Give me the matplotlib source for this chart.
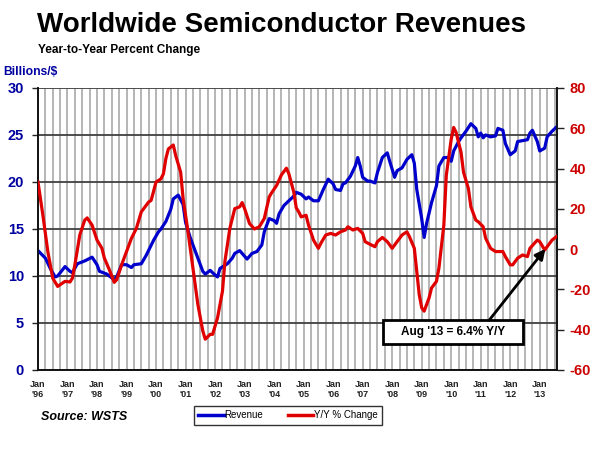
import matplotlib
matplotlib.use("Agg")
import matplotlib.pyplot as plt
from matplotlib.ticker import MultipleLocator, FixedLocator
from matplotlib.lines import Line2D
from matplotlib.patches import Rectangle

plt.rcParams['font.family'] = ['Liberation Sans', 'DejaVu Sans']

# months since Jan 1996
rev_months = [0, 3, 5, 7, 8, 11, 13, 14, 16, 19, 22, 24, 25, 28, 31, 32, 34, 36, 38, 39,
              42, 44, 47, 49, 50, 52, 54, 55, 57, 59, 60, 62, 65, 67, 68, 70, 72, 73, 74, 77,
              79, 80, 82, 83, 85, 87, 89, 91, 92, 94, 96, 97, 98, 100, 102, 104, 105, 107, 109, 110,
              112, 114, 116, 118, 120, 121, 123, 124, 125, 127, 129, 130, 131, 132, 134, 135, 137, 138, 140, 142,
              143, 145, 146, 148, 150, 152, 153, 154, 156, 157, 158, 160, 162, 163, 165, 167, 168, 169, 171, 172,
              174, 176, 178, 179, 180, 181, 182, 184, 186, 187, 189, 190, 192, 194, 195, 197, 199, 200, 201, 203,
              204, 206, 207, 209, 211]
rev_values = [12.7, 11.9, 10.8, 9.9, 10.0, 11.0, 10.5, 10.35, 11.3, 11.6, 12.0, 11.2, 10.5, 10.2, 9.6, 9.9, 11.2, 11.2, 10.9, 11.2,
              11.3, 12.2, 13.8, 14.7, 15.0, 15.8, 17.1, 18.2, 18.6, 17.6, 15.7, 14.0, 11.9, 10.5, 10.2, 10.6, 10.1, 9.9, 10.8, 11.3,
              11.9, 12.4, 12.7, 12.4, 11.8, 12.4, 12.6, 13.3, 14.7, 16.1, 15.9, 15.6, 16.6, 17.5, 18.0, 18.5, 18.9, 18.7, 18.2, 18.4,
              18.0, 18.0, 19.2, 20.3, 19.8, 19.2, 19.1, 19.8, 19.9, 20.6, 21.7, 22.6, 21.7, 20.5, 20.1, 20.1, 19.9, 21.0, 22.6, 23.1,
              22.2, 20.5, 21.2, 21.5, 22.4, 22.9, 22.0, 19.2, 16.1, 14.1, 15.6, 17.8, 19.6, 21.7, 22.6, 22.6, 22.2, 23.3, 24.3, 24.7,
              25.4, 26.2, 25.7, 24.8, 25.2, 24.7, 25.0, 24.8, 24.9, 25.7, 25.5, 24.1, 22.9, 23.3, 24.3, 24.4, 24.5, 25.2, 25.5, 24.3,
              23.3, 23.6, 24.8, 25.4, 25.9]

yoy_months = [0, 2, 4, 6, 8, 10, 11, 13, 14, 15, 17, 19, 20, 22, 24, 26, 27, 29, 31, 32,
              34, 36, 38, 40, 42, 45, 46, 48, 50, 51, 52, 53, 55, 56, 58, 59, 61, 63, 65, 67,
              68, 70, 71, 73, 75, 76, 78, 80, 82, 83, 84, 86, 88, 90, 92, 94, 95, 97, 99, 101,
              102, 104, 105, 106, 107, 109, 110, 112, 114, 115, 117, 119, 121, 123, 125, 126, 128, 130, 132, 133,
              135, 137, 138, 140, 142, 144, 146, 148, 150, 151, 153, 154, 155, 156, 157, 159, 160, 162, 163, 165,
              166, 168, 169, 170, 172, 173, 175, 176, 178, 179, 181, 182, 184, 186, 189, 190, 192, 193, 195, 197,
              199, 200, 203, 204, 206, 207, 209, 211]
yoy_values = [33.3, 16.8, -1.2, -14.4, -18.5, -16.8, -16.0, -16.3, -14.4, -7.8, 7.0, 14.4, 15.5, 11.9, 4.5, 0.4, -4.5, -10.2, -16.5, -15.2,
              -7.8, -1.2, 5.4, 10.3, 18.5, 23.4, 24.2, 33.3, 34.9, 37.4, 45.0, 49.7, 51.7, 46.4, 38.2, 25.1, 8.6, -9.4, -27.5, -40.6,
              -44.7, -42.3, -42.3, -34.1, -20.9, -6.1, 10.3, 20.1, 21.0, 23.1, 20.1, 12.7, 10.0, 11.1, 15.2, 25.9, 28.0, 31.6, 36.9, 40.2,
              37.4, 28.3, 20.5, 18.5, 16.0, 16.8, 11.9, 4.5, 0.4, 2.9, 7.0, 7.8, 7.0, 8.6, 9.5, 11.1, 9.5, 10.3, 7.8, 3.7,
              2.4, 1.2, 3.7, 5.8, 3.7, 0.4, 3.7, 7.0, 8.6, 6.2, 0.4, -11.1, -22.6, -29.1, -30.8, -24.2, -19.3, -16.0, -9.4, 11.9,
              36.6, 54.6, 60.4, 57.9, 48.0, 38.2, 30.0, 21.0, 14.4, 13.6, 11.1, 5.4, 0.4, -1.2, -1.2, -3.7, -7.8, -7.8, -4.5, -2.9,
              -3.7, 0.4, 4.5, 3.7, -0.4, 1.2, 4.5, 6.4]

year_ticks = list(range(0, 205, 12))
year_labels = ["Jan\n'%02d" % ((96 + i) % 100) for i in range(len(year_ticks))]
left_ticks = [0, 5, 10, 15, 20, 25, 30]
right_ticks = [-60, -40, -20, 0, 20, 40, 60, 80]

BLUE = '#0000CC'
RED = '#E00000'
LBLUE = '#0000A0'
LRED = '#CC0000'

fig = plt.figure(figsize=(6, 4.5), dpi=100)
ax = fig.add_axes([0.0633, 0.1778, 0.865, 0.6267])
ax2 = ax.twinx()

ax.set_xlim(0, 211)
ax.set_ylim(0, 30)
ax2.set_ylim(-60, 80)

ax.xaxis.set_major_locator(FixedLocator(year_ticks))
ax.xaxis.set_minor_locator(MultipleLocator(3))
ax.set_xticklabels(year_labels, fontsize=6.5, fontweight='bold', color='#222222', linespacing=1.25)
ax.tick_params(axis='x', which='both', length=0, pad=7)
ax.grid(True, axis='x', which='both', color='#b0b0b0', lw=1.3)
ax.yaxis.set_major_locator(FixedLocator(left_ticks))
ax.grid(True, axis='y', which='major', color='#404040', lw=1.3)
ax.set_axisbelow(True)
ax.set_yticklabels([str(v) for v in left_ticks], fontsize=10.5, fontweight='bold', color=LBLUE)
ax.tick_params(axis='y', direction='out', length=4, width=1, color='#222222', pad=6)

ax2.yaxis.set_major_locator(FixedLocator(right_ticks))
ax2.set_yticklabels([str(v) for v in right_ticks], fontsize=10.5, fontweight='bold', color=LRED)
ax2.tick_params(axis='y', direction='out', length=5, width=1, color='#222222', pad=4)

for a in (ax, ax2):
    a.spines['top'].set_visible(False)
    for s in ('left', 'right', 'bottom'):
        a.spines[s].set_color('#111111')
        a.spines[s].set_linewidth(1.2)

ax.plot(rev_months, rev_values, color=BLUE, lw=2.3, solid_joinstyle='round', zorder=3)
ax2.plot(yoy_months, yoy_values, color=RED, lw=2.3, solid_joinstyle='round', zorder=3)

# annotation
ax.add_patch(Rectangle((0.665, 0.092), 0.27, 0.085, transform=ax.transAxes,
                       facecolor='white', edgecolor='black', lw=2, zorder=5, clip_on=False))
ax.text(0.80, 0.135, "Aug '13 = 6.4% Y/Y", transform=ax.transAxes, ha='center', va='center',
        fontsize=8.5, fontweight='bold', zorder=6)
ptx = yoy_months[-3]
pty = yoy_values[-3]
ax2.annotate('', xy=(ptx, pty), xycoords='data', xytext=(0.87, 0.178), textcoords='axes fraction',
             arrowprops=dict(arrowstyle='-|>,head_length=0.6,head_width=0.3', color='black', lw=2,
                             shrinkA=0, shrinkB=2), zorder=6)

# titles
fig.text(0.062, 0.945, "Worldwide Semiconductor Revenues", fontsize=20, fontweight='bold',
         ha='left', va='center')
fig.text(0.064, 0.888, "Year-to-Year Percent Change", fontsize=8.5, fontweight='bold',
         ha='left', va='center')
fig.text(0.006, 0.840, "Billions/$", fontsize=8.7, fontweight='bold', color=LBLUE,
         ha='left', va='center')
fig.text(0.068, 0.073, "Source: WSTS", fontsize=9, fontweight='bold', style='italic',
         ha='left', va='center')

handles = [Line2D([], [], color=BLUE, lw=2.5), Line2D([], [], color=RED, lw=2.5)]
leg = fig.legend(handles, ['Revenue', 'Y/Y % Change'], loc='center', bbox_to_anchor=(0.48, 0.077),
                 ncol=2, fontsize=7, frameon=True, fancybox=False, edgecolor='black',
                 handlelength=2.6, handletextpad=0.1, columnspacing=2.5, borderpad=0.45,
                 borderaxespad=0)
leg.get_frame().set_linewidth(1.0)

fig.savefig('out.png', dpi=100)
